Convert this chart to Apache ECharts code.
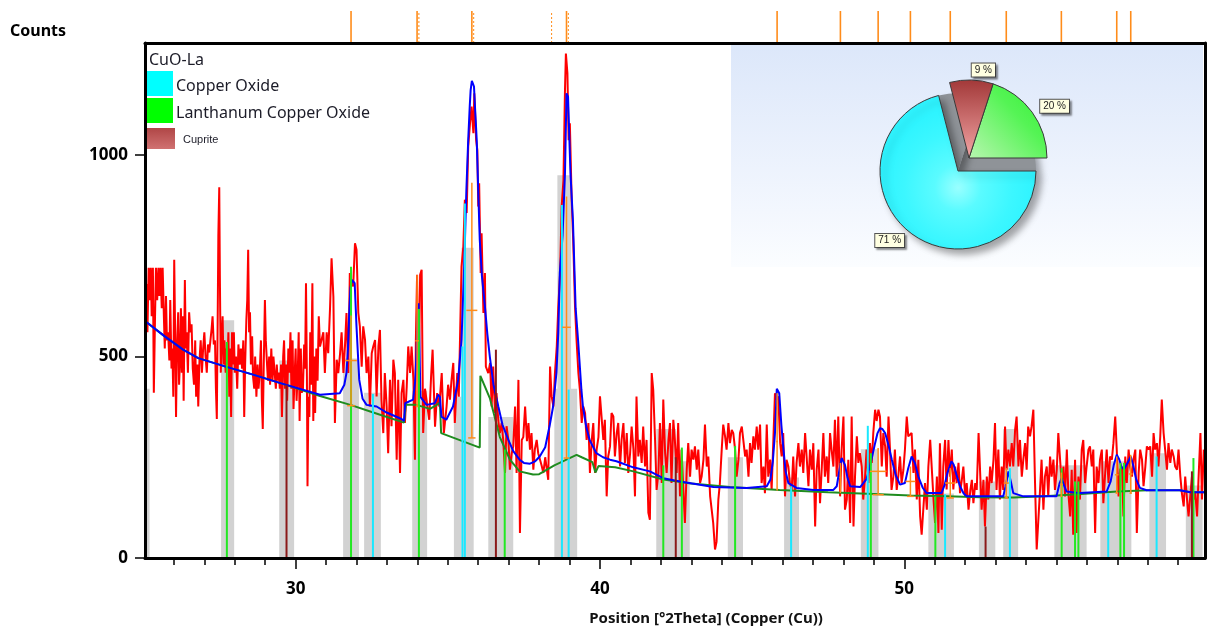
<!DOCTYPE html>
<html><head><meta charset="utf-8">
<script src="https://cdn.jsdelivr.net/npm/echarts@6/dist/echarts.min.js"></script>
<style>html,body{margin:0;padding:0;background:#fff}#c{width:1210px;height:630px}</style>
</head><body><div id="c"></div>
<script>
// ---------- data ----------
const xMajorTicks = [30, 40, 50];
const xMinorTicks = [26,27,28,29,30,31,32,33,34,35,36,37,38,39,40,41,42,43,44,45,46,47,48,49,50,51,52,53,54,55,56,57,58,59];
const yTicks = [0, 500, 1000];

// observed pattern [2theta, counts]
const observed = [
[25.07,590],[25.10,680],[25.13,560],[25.17,720],[25.20,640],[25.24,720],[25.27,600],[25.31,720],[25.34,410],[25.38,600],[25.41,720],[25.45,640],[25.49,720],[25.52,650],[25.56,720],[25.60,620],[25.63,720],[25.67,600],[25.70,520],[25.74,650],[25.77,540],[25.81,560],[25.85,490],[25.88,640],[25.92,470],[25.95,520],[25.98,400],[26.01,740],[26.04,560],[26.07,350],[26.10,520],[26.14,610],[26.17,430],[26.20,490],[26.23,620],[26.26,460],[26.29,600],[26.32,390],[26.36,690],[26.39,520],[26.42,560],[26.46,460],[26.50,610],[26.54,560],[26.58,580],[26.62,470],[26.66,430],[26.70,540],[26.73,400],[26.77,480],[26.80,376],[26.84,490],[26.88,540],[26.92,460],[26.96,520],[27.00,560],[27.04,500],[27.08,460],[27.12,530],[27.16,510],[27.20,540],[27.24,570],[27.27,600],[27.31,530],[27.35,540],[27.38,420],[27.41,345],[27.44,610],[27.46,800],[27.49,920],[27.51,700],[27.54,460],[27.57,540],[27.60,600],[27.63,480],[27.66,540],[27.70,460],[27.73,520],[27.76,480],[27.79,560],[27.82,400],[27.85,520],[27.88,350],[27.91,560],[27.94,480],[27.97,560],[28.00,460],[28.04,500],[28.08,420],[28.12,530],[28.16,480],[28.20,520],[28.24,470],[28.28,540],[28.31,350],[28.34,480],[28.38,590],[28.41,640],[28.44,765],[28.47,560],[28.50,610],[28.53,480],[28.57,550],[28.60,450],[28.64,420],[28.67,500],[28.71,400],[28.75,480],[28.78,420],[28.82,460],[28.86,540],[28.89,390],[28.92,320],[28.95,470],[28.99,640],[29.02,540],[29.06,480],[29.09,440],[29.13,500],[29.16,430],[29.20,520],[29.24,440],[29.27,500],[29.31,460],[29.35,420],[29.38,480],[29.41,440],[29.45,460],[29.48,420],[29.52,480],[29.55,350],[29.59,500],[29.62,540],[29.65,420],[29.69,480],[29.72,390],[29.76,520],[29.79,460],[29.83,560],[29.86,420],[29.90,540],[29.93,370],[29.96,440],[30.00,520],[30.03,390],[30.07,460],[30.10,560],[30.13,340],[30.17,520],[30.20,410],[30.24,420],[30.28,530],[30.31,470],[30.34,682],[30.37,450],[30.39,178],[30.42,400],[30.45,350],[30.48,560],[30.51,430],[30.55,682],[30.58,340],[30.61,500],[30.64,360],[30.68,520],[30.72,440],[30.76,600],
[30.80,525],[30.85,525],[30.91,560],[30.96,459],[31.02,560],[31.07,508],[31.13,620],[31.18,744],[31.24,649],[31.29,335],[31.35,492],[31.40,459],[31.46,508],[31.51,560],[31.57,459],[31.62,525],[31.67,608],[31.73,459],[31.78,707],[31.84,682],[31.89,674],[31.95,781],[32.00,765],[32.06,608],[32.11,575],[32.17,475],[32.22,575],[32.28,541],[32.33,459],[32.39,500],[32.44,376],[32.50,508],[32.55,525],[32.61,541],[32.66,401],[32.72,525],[32.77,566],[32.82,393],[32.88,310],[32.93,459],[32.99,376],[33.04,260],[33.10,442],[33.15,327],[33.21,492],[33.26,459],[33.32,244],[33.37,442],[33.43,211],[33.48,409],[33.54,442],[33.59,335],[33.65,426],[33.70,525],[33.76,459],[33.81,525],[33.87,442],[33.92,244],[33.95,541],[33.99,703],[34.04,393],[34.09,703],
[34.14,715],[34.19,310],[34.25,420],[34.30,417],[34.39,343],[34.45,450],[34.50,517],[34.58,326],[34.65,409],[34.72,376],[34.80,459],[34.87,310],[34.96,376],[35.01,430],[35.07,393],[35.12,440],[35.18,484],[35.23,335],[35.31,459],[35.36,400],[35.40,541],[35.45,723],[35.51,773],[35.56,889],[35.62,856],[35.67,1021],[35.73,1079],[35.78,1120],[35.84,1054],[35.87,1153],[35.93,1037],[35.97,1013],[36.00,872],[36.03,930],[36.08,707],[36.11,806],[36.17,608],[36.22,707],[36.25,475],[36.33,459],[36.39,484],[36.44,376],[36.49,475],[36.55,360],[36.60,409],[36.66,340],[36.71,310],[36.77,335],[36.82,293],[36.88,211],[36.93,327],[36.99,293],[37.04,219],[37.10,260],[37.15,277],[37.21,376],[37.26,211],[37.32,442],[37.37,62],[37.43,293],[37.48,300],[37.54,376],[37.60,290],[37.65,335],[37.70,269],[37.75,310],[37.81,219],[37.86,270],[37.92,293],[37.97,260],[38.03,244],[38.08,230],[38.14,211],[38.20,250],[38.25,252],[38.30,194],[38.36,475],[38.41,401],[38.47,376],[38.52,459],[38.58,525],[38.63,624],[38.69,707],[38.74,872],[38.80,938],[38.85,1161],[38.88,1252],[38.93,1203],[38.97,1037],[39.01,1079],[39.07,889],[39.12,789],[39.18,624],[39.23,541],[39.29,459],[39.34,417],[39.40,335],[39.45,376],[39.51,360],[39.56,293],[39.62,335],[39.67,211],[39.73,293],[39.78,335],[39.84,211],[39.89,269],[39.95,300],
[40.00,401],[40.05,401],[40.11,293],[40.16,343],[40.22,153],[40.27,252],[40.33,277],[40.38,360],[40.44,351],[40.49,252],[40.55,310],[40.60,335],[40.66,227],[40.71,293],[40.77,335],[40.82,236],[40.88,310],[40.93,211],[40.99,260],[41.04,326],[41.10,269],[41.15,153],[41.20,401],[41.26,252],[41.31,293],[41.37,236],[41.42,326],[41.48,227],[41.53,293],[41.59,112],[41.64,95],[41.70,459],[41.75,417],[41.81,293],[41.86,169],[41.92,211],[41.97,335],[42.03,186],[42.08,393],[42.14,260],[42.19,211],[42.25,293],[42.30,335],[42.35,186],[42.41,343],[42.46,293],[42.52,211],[42.57,335],
[42.63,153],[42.68,269],[42.74,169],[42.79,87],[42.85,219],[42.90,285],[42.96,202],[43.01,269],[43.07,244],[43.12,277],[43.18,219],[43.23,269],[43.29,186],[43.34,202],[43.40,244],[43.45,331],[43.51,227],[43.56,252],[43.62,153],[43.67,120],[43.72,87],[43.78,21],[43.83,40],[43.89,145],[43.94,186],[44.00,269],[44.05,331],[44.11,302],[44.16,269],[44.22,335],[44.27,285],[44.33,318],[44.38,310],[44.44,269],[44.49,202],[44.55,244],[44.60,310],[44.66,326],[44.71,328],[44.77,252],[44.82,269],[44.88,202],[44.93,285],[44.98,236],[45.04,302],[45.09,269],[45.15,326],[45.20,269],[45.26,331],[45.31,186],[45.37,227],[45.42,161],[45.48,331],[45.53,202],[45.59,244],[45.64,169],[45.70,300],[45.75,409],[45.81,393],[45.86,401],[45.92,285],[45.97,252],[46.02,310],[46.08,153],[46.13,244],[46.19,227],[46.24,186],[46.30,169],[46.35,252],[46.41,153],[46.46,236],[46.52,285],[46.57,227],[46.63,269],[46.68,211],[46.74,310],[46.79,252],[46.85,178],[46.90,269],[46.96,219],[47.01,285],[47.07,78],[47.12,219],[47.18,269],[47.23,136],[47.29,227],[47.34,310],[47.39,202],[47.45,252],[47.50,186],[47.56,310],[47.61,269],[47.67,227],[47.72,343],[47.78,202],[47.83,351],[47.89,153],[47.94,269],[48.00,351],[48.05,120],[48.11,145],[48.16,244],[48.22,87],[48.27,351],[48.33,78],[48.38,202],[48.44,302],[48.49,236],[48.54,260],[48.60,227],[48.65,145],[48.71,202],[48.76,269],[48.82,186],[48.87,285],[48.93,236],[48.98,310],[49.04,368],[49.09,340],[49.15,368],[49.20,351],[49.26,227],[49.31,310],[49.37,277],[49.42,202],[49.48,351],[49.53,269],[49.58,169],[49.64,202],[49.69,269],[49.75,169],[49.80,202],[49.86,252],[49.91,186],[49.97,219],[50.02,269],[50.08,351],[50.13,302],
[50.24,310],[50.30,211],[50.35,269],[50.41,145],[50.46,244],[50.52,103],[50.57,58],[50.63,62],[50.68,186],[50.74,120],[50.79,227],[50.85,293],[50.90,293],[50.96,145],[51.01,87],[51.07,202],[51.12,62],[51.17,285],[51.23,70],[51.28,227],[51.34,293],[51.39,170],[51.45,293],[51.50,202],[51.56,269],[51.61,170],[51.67,227],[51.72,186],[51.78,236],[51.83,161],[51.89,194],[51.94,227],[52.00,153],[52.05,186],[52.11,120],[52.17,169],[52.22,194],[52.27,136],[52.33,186],[52.38,169],[52.44,310],[52.49,314],[52.54,120],[52.60,194],[52.65,78],[52.71,202],[52.76,145],[52.82,227],[52.87,186],[52.93,244],[52.98,335],[53.03,169],[53.09,269],[53.14,145],[53.20,227],[53.25,169],[53.31,326],[53.36,219],[53.42,269],[53.47,227],[53.53,285],[53.58,227],[53.64,318],[53.69,351],[53.75,227],[53.80,293],[53.86,202],[53.91,244],[53.97,285],[54.02,219],[54.07,326],[54.13,302],[54.18,326],[54.24,368],[54.29,202],[54.35,21],[54.40,20],[54.46,169],[54.51,244],[54.57,120],[54.62,202],[54.68,227],[54.73,153],[54.79,252],[54.84,202],[54.90,244],[54.95,169],[55.01,219],[55.06,310],[55.12,310],[55.17,186],[55.23,227],[55.28,153],[55.34,269],[55.39,161],[55.45,103],[55.50,219],[55.55,58],[55.61,244],[55.66,62],[55.72,202],[55.77,145],[55.83,269],[55.88,293],[55.94,186],[55.99,227],[56.05,269],[56.10,277],[56.16,227],[56.21,269],[56.27,62],[56.32,227],[56.38,186],[56.43,244],[56.49,269],[56.54,136],[56.60,211],[56.65,269],[56.71,186],[56.76,252],[56.82,244],[56.87,285],[56.93,351],[56.98,269],[57.04,153],[57.09,219],[57.15,227],[57.20,103],[57.26,252],[57.31,186],[57.37,269],[57.42,227],[57.48,202],[57.53,244],[57.59,269],[57.64,62],[57.70,211],[57.75,269],[57.81,244],[57.86,178],[57.92,227],[57.97,277],[58.03,269],[58.08,277],[58.14,202],[58.19,310],[58.24,269],[58.30,285],[58.35,227],[58.41,302],[58.46,393],[58.52,310],[58.57,269],[58.63,219],[58.68,285],[58.74,236],[58.79,269],[58.85,252],[58.90,227],[58.96,219],[59.01,269],[59.07,202],[59.12,161],[59.18,128],[59.23,202],[59.29,145],[59.34,103],[59.40,103],[59.45,202],[59.51,145],[59.56,161],[59.62,103],[59.67,202],[59.73,310],[59.78,145],[59.84,269]
];

// calculated (fitted) profile
const fitted = [
[25.07,587],[25.7,550],[26.3,517],[26.8,496],[27.7,475],[28.6,455],[29.5,434],[30.8,405],[31.45,409],[31.6,430],[31.67,459],[31.72,520],[31.76,608],[31.8,670],[31.85,690],[31.9,688],[31.94,682],[32.0,574],[32.05,500],[32.09,442],[32.2,395],[32.33,380],[32.5,378],[32.66,376],[32.99,361],[33.48,345],[33.56,340],[33.6,384],[33.86,393],[33.93,440],[33.97,508],[34.01,600],[34.04,632],[34.07,520],[34.1,400],[34.3,380],[34.57,384],[34.68,405],[34.74,400],[34.79,351],[34.95,343],[35.17,376],[35.34,442],[35.45,541],[35.53,707],[35.56,780],[35.61,913],[35.67,1037],[35.72,1120],[35.75,1161],[35.79,1184],[35.83,1180],[35.86,1170],[35.9,1110],[35.95,1037],[36.0,910],[36.05,789],[36.12,700],[36.22,624],[36.3,555],[36.38,500],[36.5,430],[36.66,376],[36.8,330],[36.99,293],[37.15,265],[37.36,244],[37.5,236],[37.7,234],[37.87,240],[38.02,252],[38.2,275],[38.35,330],[38.46,376],[38.57,460],[38.63,560],[38.68,707],[38.77,800],[38.85,955],[38.9,1153],[38.95,1145],[39.03,955],[39.11,840],[39.2,620],[39.28,541],[39.39,417],[39.44,376],[39.55,325],[39.66,293],[39.88,260],[40.1,250],[40.33,244],[40.54,240],[41.09,225],[41.64,215],[42.08,198],[42.63,190],[43.73,176],[44.82,174],[45.48,178],[45.6,195],[45.68,240],[45.75,310],[45.81,420],[45.85,424],[45.89,409],[45.96,330],[46.03,269],[46.1,215],[46.19,186],[46.46,174],[47.01,169],[47.67,169],[47.78,178],[47.86,215],[47.94,248],[48.0,245],[48.05,231],[48.13,200],[48.22,178],[48.55,176],[48.75,195],[48.87,227],[49.04,285],[49.12,310],[49.2,322],[49.28,320],[49.37,310],[49.48,280],[49.59,244],[49.72,205],[49.86,182],[50.02,186],[50.12,220],[50.24,252],[50.35,235],[50.46,202],[50.6,175],[50.73,161],[51.22,161],[51.32,180],[51.42,212],[51.55,240],[51.62,232],[51.7,210],[51.83,178],[51.95,160],[52.05,153],[53.25,153],[53.33,178],[53.42,215],[53.5,190],[53.58,161],[53.91,153],[55.0,153],[55.1,185],[55.17,198],[55.25,180],[55.33,165],[55.77,161],[56.65,165],[56.78,190],[56.88,230],[56.98,256],[57.06,245],[57.14,225],[57.22,220],[57.31,232],[57.44,252],[57.52,230],[57.62,195],[57.74,174],[57.96,168],[59.05,168],[59.4,163],[59.88,163]
];

// background curve
const background = [
[25.07,587],[25.7,550],[26.3,517],[26.8,496],[27.7,475],[28.6,455],[29.5,434],[30.8,402],[31.8,380],[32.55,361],[33.56,336],[33.62,380],[33.97,380],[34.41,370],[34.6,378],[34.74,386],[34.78,310],[36.05,274],[36.07,452],[36.38,397],[36.71,300],[37.04,244],[37.36,215],[37.8,207],[38.0,208],[38.5,230],[39.23,256],[39.4,250],[39.75,238],[39.85,212],[39.95,228],[40.5,225],[41.1,215],[42.08,195],[43.0,185],[44.27,176],[45.9,169],[47.5,163],[49.0,159],[50.2,155],[51.4,153],[52.5,151],[53.6,150],[54.6,153],[55.8,159],[57.0,165],[58.0,168],[59.05,168],[59.4,163],[59.88,163]
];

// grey reference bands [from, to, height]
const refBands = [
[25.05,25.2,420],[27.55,27.98,590],[29.46,29.95,490],[31.56,32.08,495],[32.25,32.8,410],[33.83,34.32,415],[35.2,35.45,400],[35.45,35.85,770],[36.33,37.15,350],[38.5,39.25,420],[38.6,39.05,950],[41.85,42.5,320],[42.5,42.95,240],[44.2,44.7,250],[46.05,46.54,200],[48.57,49.15,270],[50.79,51.63,160],[52.45,52.99,190],[53.25,53.74,320],[54.93,55.99,230],[56.44,57.46,240],[58.05,58.6,260],[59.25,59.8,180]
];

// phase stick patterns [2theta, counts]
const copperOxide = [[32.54,407],[35.48,525],[35.56,880],[38.75,876],[38.97,418],[46.28,178],[48.8,328],[51.34,158],[53.47,223],[56.7,161],[58.29,252]];
const lanthanumCopperOxide = [[27.74,536],[31.82,723],[34.05,618],[36.87,269],[42.08,230],[42.69,274],[44.44,278],[48.9,260],[51.02,153],[55.17,223],[55.61,190],[55.72,190],[57.1,236],[57.22,236],[59.5,248]];
const cuprite = [[29.70,430],[36.58,517],[42.49,250],[52.67,78],[59.45,215]];

// fitted peak markers [position, base, top, width]
const peakMarkers = [[31.82,378,602,0.38],[33.99,376,702,0.12],[35.79,298,931,0.36],[38.9,248,897,0.28],[45.82,169,409,0.06],[47.9,163,236,0.06],[49.14,157,273,0.55],[50.2,153,227,0.33],[51.51,149,223,0.35],[53.35,149,223,0.17],[55.16,153,212,0.1],[56.98,161,252,0.12],[57.44,161,256,0.12]];
// peak position ticks above the plot [position, dotted]
const topMarkers = [[31.82,0],[33.99,0],[34.05,1],[35.79,0],[35.85,1],[38.41,1],[38.9,0],[38.96,1],[45.82,0],[47.9,0],[49.14,0],[50.2,0],[51.51,0],[53.35,0],[55.16,0],[56.98,0],[57.44,0]];

// phase composition (semi-quantitative)
const phaseNames = ['Lanthanum Copper Oxide', 'Cuprite', 'Copper Oxide'];
const phaseShares = [20, 9, 71];

// ---------- chart ----------
const X_MIN = 25.05, X_MAX = 59.88, Y_MAX = 1278;
const chart = echarts.init(document.getElementById('c'), null, {renderer: 'canvas'});

function stickSeries(name, data, color) {
  return {
    name, type: 'custom', xAxisIndex: 0, yAxisIndex: 0, data, z: 6, clip: true,
    encode: {x: 0, y: 1}, silent: true,
    renderItem(params, api) {
      const a = api.coord([api.value(0), 0]);
      const b = api.coord([api.value(0), api.value(1)]);
      return {type: 'line', shape: {x1: a[0], y1: a[1], x2: b[0], y2: b[1]}, style: {stroke: color, lineWidth: 2}};
    }
  };
}

const cyanFill = {type: 'radial', x: 0.5, y: 0.6, r: 0.5, colorStops: [{offset: 0, color: '#99ffff'}, {offset: 0.3, color: '#5afbff'}, {offset: 0.7, color: '#3cf7ff'}, {offset: 1, color: '#2ff4ff'}]};
const greenFill = {type: 'linear', x: 0, y: 1, x2: 1, y2: 0, colorStops: [{offset: 0, color: '#b8f6b0'}, {offset: 0.6, color: '#55f455'}, {offset: 1, color: '#33f033'}]};
const brownFill = {type: 'linear', x: 0, y: 0, x2: 0, y2: 1, colorStops: [{offset: 0, color: '#a23838'}, {offset: 1, color: '#f3a6a6'}]};
const pieLabel = {show: true, position: 'outside', formatter: '{c} %', fontSize: 10, fontFamily: 'Liberation Sans', color: '#222',
  backgroundColor: '#ffffe1', borderColor: '#555', borderWidth: 1, padding: [2, 3, 1, 3],
  shadowColor: 'rgba(0,0,0,0.35)', shadowBlur: 2, shadowOffsetX: 2, shadowOffsetY: 2, distanceToLabelLine: 0};
const hiddenLabel = {show: false};
const numberFont = {fontSize: 17, fontWeight: 'bold', fontFamily: 'Noto Sans', color: '#000'};

const option = {
  animation: false,
  backgroundColor: '#ffffff',
  title: {text: 'Counts', left: 10, top: 23, padding: 0, textStyle: {fontSize: 16, fontWeight: 'bold', fontFamily: 'Noto Sans', color: '#000'}},
  grid: [
    {left: 145, right: 5, top: 43, bottom: 72, outerBoundsMode: 'none', containLabel: false},
    {left: 145, right: 5, top: 11, height: 32, outerBoundsMode: 'none', containLabel: false}
  ],
  xAxis: [
    {gridIndex: 0, type: 'value', min: X_MIN, max: X_MAX, position: 'bottom', z: 10,
     name: 'Position [°2Theta] (Copper (Cu))', nameLocation: 'middle', nameGap: 53,
     nameTextStyle: {fontSize: 15, fontWeight: 'bold', fontFamily: 'Noto Sans', color: '#111', padding: [0, 0, 0, 62]},
     axisLine: {onZero: false, lineStyle: {color: '#000', width: 3}},
     axisTick: {customValues: xMajorTicks, length: 11, lineStyle: {color: '#000', width: 1.5}},
     axisLabel: Object.assign({customValues: xMajorTicks, margin: 23, formatter: (v) => String(v)}, numberFont),
     splitLine: {show: false}},
    {gridIndex: 0, type: 'value', min: X_MIN, max: X_MAX, position: 'bottom', z: 10,
     axisLine: {show: false, onZero: false},
     axisTick: {customValues: xMinorTicks, length: 7, lineStyle: {color: '#000', width: 1.5}},
     axisLabel: {show: false}, splitLine: {show: false}},
    {gridIndex: 0, type: 'value', min: X_MIN, max: X_MAX, position: 'top', z: 10,
     axisLine: {onZero: false, lineStyle: {color: '#000', width: 3}},
     axisTick: {show: false}, axisLabel: {show: false}, splitLine: {show: false}},
    {gridIndex: 1, type: 'value', min: X_MIN, max: X_MAX, show: false}
  ],
  yAxis: [
    {gridIndex: 0, type: 'value', min: 0, max: Y_MAX, position: 'left', z: 10,
     axisLine: {show: true, onZero: false, lineStyle: {color: '#000', width: 3}},
     axisTick: {show: true, customValues: yTicks, length: 10, lineStyle: {color: '#000', width: 1.5}},
     axisLabel: Object.assign({customValues: yTicks, margin: 17, formatter: (v) => String(v)}, numberFont),
     splitLine: {show: false}},
    {gridIndex: 0, type: 'value', min: 0, max: Y_MAX, position: 'right', z: 10,
     axisLine: {show: true, onZero: false, lineStyle: {color: '#000', width: 3}},
     axisTick: {show: false}, axisLabel: {show: false}, splitLine: {show: false}},
    {gridIndex: 1, type: 'value', min: 0, max: 1, show: false}
  ],
  graphic: [
    {type: 'rect', z: 1, silent: true, shape: {x: 731, y: 45, width: 472, height: 222},
     style: {fill: new echarts.graphic.LinearGradient(0, 0, 0, 1, [{offset: 0, color: '#dce7fa'}, {offset: 0.75, color: '#f3f7fe'}, {offset: 1, color: '#fbfdff'}])}},
    {type: 'text', z: 20, x: 149, y: 60, style: {text: 'CuO-La', font: '16px "Noto Sans"', fill: '#1c1c28', verticalAlign: 'middle'}},
    {type: 'rect', z: 20, shape: {x: 147, y: 71, width: 26, height: 25}, style: {fill: '#00ffff'}},
    {type: 'text', z: 20, x: 176, y: 86, style: {text: 'Copper Oxide', font: '16px "Noto Sans"', fill: '#1c1c28', verticalAlign: 'middle'}},
    {type: 'rect', z: 20, shape: {x: 147, y: 98, width: 26, height: 25}, style: {fill: '#00ff00'}},
    {type: 'text', z: 20, x: 176, y: 113, style: {text: 'Lanthanum Copper Oxide', font: '16px "Noto Sans"', fill: '#1c1c28', verticalAlign: 'middle'}},
    {type: 'rect', z: 20, shape: {x: 147, y: 128, width: 28, height: 21},
     style: {fill: new echarts.graphic.LinearGradient(0, 0, 0, 1, [{offset: 0, color: '#b04646'}, {offset: 1, color: '#d07272'}])}},
    {type: 'text', z: 20, x: 183, y: 140, style: {text: 'Cuprite', font: '11px "Liberation Sans"', fill: '#1c1c28', verticalAlign: 'middle'}}
  ],
  series: [
    {name: 'bands', type: 'custom', xAxisIndex: 0, yAxisIndex: 0, data: refBands, z: 1, clip: true, silent: true,
     encode: {x: [0, 1], y: 2},
     renderItem(params, api) {
       const a = api.coord([api.value(0), 0]);
       const b = api.coord([api.value(1), api.value(2)]);
       return {type: 'rect', shape: {x: a[0], y: b[1], width: b[0] - a[0], height: a[1] - b[1]}, style: {fill: '#d2d2d2'}};
     }},
    {name: 'Observed', type: 'line', xAxisIndex: 0, yAxisIndex: 0, data: observed, showSymbol: false, symbol: 'none', z: 2,
     lineStyle: {color: '#ff0000', width: 2}, silent: true},
    {name: 'Background', type: 'line', xAxisIndex: 0, yAxisIndex: 0, data: background, showSymbol: false, symbol: 'none', z: 3,
     lineStyle: {color: '#1f8c1f', width: 2}, silent: true},
    {name: 'Calculated', type: 'line', xAxisIndex: 0, yAxisIndex: 0, data: fitted, showSymbol: false, symbol: 'none', z: 4,
     lineStyle: {color: '#0000ff', width: 2}, silent: true},
    stickSeries('Copper Oxide', copperOxide, '#1ae8ff'),
    stickSeries('Lanthanum Copper Oxide', lanthanumCopperOxide, '#22e822'),
    stickSeries('Cuprite', cuprite, '#8b1a1a'),
    {name: 'peaks', type: 'custom', xAxisIndex: 0, yAxisIndex: 0, data: peakMarkers, z: 7, clip: true, silent: true,
     encode: {x: 0, y: 2},
     renderItem(params, api) {
       const x = api.value(0), base = api.value(1), top = api.value(2), w = api.value(3);
       const mid = (base + top) / 2;
       const p = (v) => api.coord(v);
       const ln = (a, b) => ({type: 'line', shape: {x1: a[0], y1: a[1], x2: b[0], y2: b[1]}, style: {stroke: '#ff8c1a', lineWidth: 1.5}});
       return {type: 'group', children: [
         ln(p([x, base]), p([x, top])),
         ln(p([x - w / 2, mid]), p([x + w / 2, mid])),
         ln(p([x - w / 3, base]), p([x + w / 3, base]))
       ]};
     }},
    {name: 'peak ticks', type: 'custom', xAxisIndex: 3, yAxisIndex: 2, data: topMarkers, z: 5, silent: true,
     encode: {x: 0},
     renderItem(params, api) {
       const a = api.coord([api.value(0), 0]);
       const b = api.coord([api.value(0), 1]);
       const dotted = api.value(1) === 1;
       return {type: 'line', shape: {x1: a[0], y1: a[1], x2: b[0], y2: b[1]},
               style: {stroke: '#ff8c1a', lineWidth: dotted ? 1 : 1.6, lineDash: dotted ? [2, 2] : null}};
     }},
    {name: 'composition', type: 'pie', center: [958, 171], radius: 78, startAngle: 0, clockwise: false, z: 8, silent: true,
     avoidLabelOverlap: false, labelLine: {show: false, length: 10, length2: 0},
     itemStyle: {borderColor: '#3a3a3a', borderWidth: 1, shadowBlur: 7, shadowOffsetX: 5, shadowOffsetY: 5, shadowColor: 'rgba(0,0,0,0.35)'},
     data: [
       {name: phaseNames[0], value: phaseShares[0], itemStyle: {color: '#8f9398', borderWidth: 0}, label: hiddenLabel},
       {name: phaseNames[1], value: phaseShares[1], itemStyle: {color: '#8f9398', borderWidth: 0}, label: hiddenLabel},
       {name: phaseNames[2], value: phaseShares[2], itemStyle: {color: cyanFill}, label: pieLabel}
     ]},
    {name: 'composition exploded', type: 'pie', center: [969, 158], radius: 78, startAngle: 0, clockwise: false, z: 9, silent: true,
     avoidLabelOverlap: false, labelLine: {show: false, length: 10, length2: 0},
     itemStyle: {borderColor: '#3a3a3a', borderWidth: 1},
     data: [
       {name: phaseNames[0], value: phaseShares[0], itemStyle: {color: greenFill}, label: pieLabel},
       {name: phaseNames[1], value: phaseShares[1], itemStyle: {color: brownFill}, label: pieLabel},
       {name: phaseNames[2], value: phaseShares[2], itemStyle: {color: 'rgba(0,0,0,0)', borderWidth: 0}, label: hiddenLabel}
     ]}
  ]
};
chart.setOption(option);
</script>
</body></html>
